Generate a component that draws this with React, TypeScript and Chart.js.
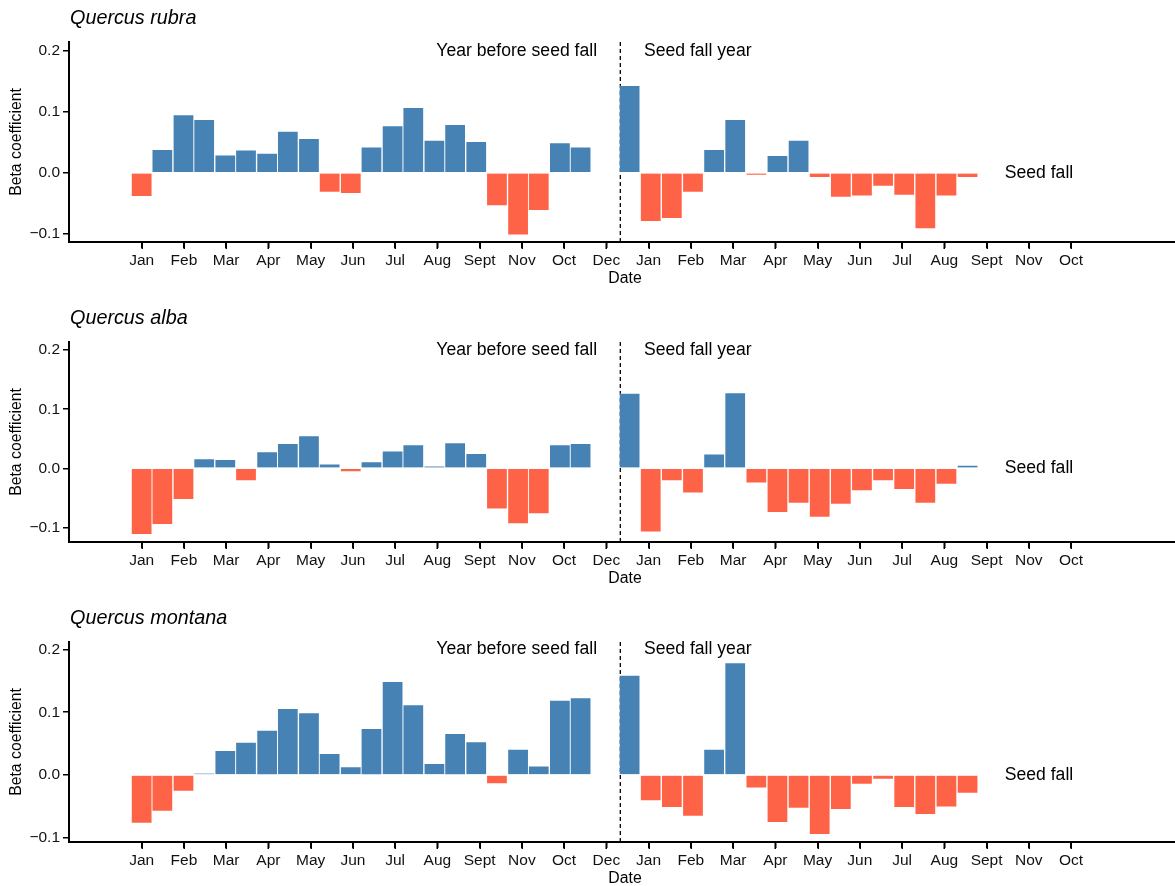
import React, { useEffect, useRef } from "react";
import { Chart, registerables } from "chart.js";

Chart.register(...registerables);

const FONT = "'Liberation Sans', Arial, Helvetica, sans-serif";

const TICK_POS = [0, 1, 2, 3, 4, 5, 6, 7, 8, 9, 10, 11, 12, 13, 14, 15, 16, 17, 18, 19, 20, 21, 22];
const TICK_LABELS = [
  "Jan", "Feb", "Mar", "Apr", "May", "Jun", "Jul", "Aug", "Sept", "Nov", "Oct", "Dec",
  "Jan", "Feb", "Mar", "Apr", "May", "Jun", "Jul", "Aug", "Sept", "Nov", "Oct",
];
const Y_TICKS = [-0.1, 0, 0.1, 0.2];
const Y_TICK_LABELS = ["\u22120.1", "0.0", "0.1", "0.2"];

// half-month periods (x in month units, ticks at integers)
const BEFORE_X = [0, 0.49, 0.99, 1.48, 1.98, 2.47, 2.97, 3.46, 3.96, 4.45, 4.95, 5.44, 5.94, 6.43, 6.93, 7.42, 7.92, 8.41, 8.91, 9.4, 9.9, 10.39];
const SEED_X = [11.55, 12.05, 12.55, 13.05, 13.55, 14.05, 14.55, 15.05, 15.55, 16.05, 16.55, 17.05, 17.55, 18.05, 18.55, 19.05, 19.55];

const RUBRA_BEFORE = [-0.039, 0.038, 0.095, 0.087, 0.029, 0.037, 0.032, 0.068, 0.056, -0.032, -0.034, 0.042, 0.077, 0.107, 0.053, 0.079, 0.051, -0.054, -0.102, -0.062, 0.049, 0.042];
const RUBRA_SEED = [0.143, -0.08, -0.075, -0.032, 0.038, 0.087, -0.004, 0.028, 0.053, -0.008, -0.04, -0.038, -0.022, -0.037, -0.092, -0.038, -0.008];

const ALBA_BEFORE = [-0.112, -0.095, -0.053, 0.016, 0.015, -0.021, 0.028, 0.042, 0.055, 0.007, -0.006, 0.011, 0.029, 0.04, 0.004, 0.043, 0.025, -0.069, -0.094, -0.077, 0.04, 0.042];
const ALBA_SEED = [0.127, -0.108, -0.021, -0.042, 0.024, 0.128, -0.025, -0.075, -0.059, -0.083, -0.061, -0.038, -0.021, -0.036, -0.059, -0.027, 0.005];

const MONTANA_BEFORE = [-0.077, -0.058, -0.026, 0.002, 0.039, 0.052, 0.071, 0.106, 0.099, 0.034, 0.013, 0.074, 0.149, 0.112, 0.018, 0.066, 0.053, -0.014, 0.041, 0.014, 0.119, 0.123];
const MONTANA_SEED = [0.159, -0.041, -0.052, -0.066, 0.041, 0.179, -0.021, -0.076, -0.053, -0.095, -0.055, -0.015, -0.007, -0.052, -0.063, -0.051, -0.029];

const SPECIES = ["Quercus rubra", "Quercus alba", "Quercus montana"];
const BEFORE_SERIES = [RUBRA_BEFORE, ALBA_BEFORE, MONTANA_BEFORE];
const SEED_SERIES = [RUBRA_SEED, ALBA_SEED, MONTANA_SEED];
const Y_MIN = [-0.1136, -0.1249, -0.107];
const Y_MAX = [0.2143, 0.2139, 0.212];

const X_MIN = -1.72;
const X_MAX = 24.46;
const DIVIDER_X = 11.33;
const LABEL_BEFORE = "Year before seed fall";
const LABEL_SEED_YEAR = "Seed fall year";
const LABEL_SEED_FALL = "Seed fall";
const BEFORE_LABEL_X = 10.78;
const SEED_LABEL_X = 11.89;
const FALL_LABEL_X = 20.43;

const BLUE = "#4682B4";
const RED = "#FF6347";

const PANEL_TOPS = [0, 300, 600];
const PANEL_HEIGHTS = [300, 300, 286];
const PLOT_TOP = 42;
const PLOT_BOTTOM = 242;
const AXIS_W = 69;

function Panel({ idx }: { idx: number }) {
  const ref = useRef<HTMLCanvasElement | null>(null);
  const H = PANEL_HEIGHTS[idx];

  useEffect(() => {
    if (!ref.current) return;
    const points = [
      ...BEFORE_X.map((x, i) => ({ x, y: BEFORE_SERIES[idx][i] })),
      ...SEED_X.map((x, i) => ({ x, y: SEED_SERIES[idx][i] })),
    ];

    const annot = {
      id: "annot" + idx,
      beforeDatasetsDraw(chart: any) {
        const { ctx, chartArea, scales } = chart;
        const px = scales.x.getPixelForValue(DIVIDER_X);
        ctx.save();
        ctx.strokeStyle = "#000";
        ctx.lineWidth = 1.3;
        ctx.setLineDash([4, 3]);
        ctx.beginPath();
        ctx.moveTo(px, chartArea.top);
        ctx.lineTo(px, chartArea.bottom);
        ctx.stroke();
        ctx.restore();
      },
      afterDraw(chart: any) {
        const { ctx, chartArea, scales } = chart;
        const x = scales.x;
        const y = scales.y;
        ctx.save();
        // x tick marks
        ctx.strokeStyle = "#000";
        ctx.lineWidth = 1.5;
        ctx.beginPath();
        TICK_POS.forEach((v) => {
          const px = Math.round(x.getPixelForValue(v)) + 0.25;
          ctx.moveTo(px, chartArea.bottom + 1);
          ctx.lineTo(px, chartArea.bottom + 7);
        });
        ctx.stroke();
        ctx.fillStyle = "#000";
        ctx.textBaseline = "middle";
        // title
        ctx.font = `italic 19.8px ${FONT}`;
        ctx.textAlign = "left";
        ctx.fillText(SPECIES[idx], chartArea.left + 1, 18);
        // annotations
        ctx.font = `17.6px ${FONT}`;
        ctx.textAlign = "right";
        ctx.fillText(LABEL_BEFORE, x.getPixelForValue(BEFORE_LABEL_X), y.getPixelForValue(0.2));
        ctx.textAlign = "left";
        ctx.fillText(LABEL_SEED_YEAR, x.getPixelForValue(SEED_LABEL_X), y.getPixelForValue(0.2));
        ctx.fillText(LABEL_SEED_FALL, x.getPixelForValue(FALL_LABEL_X), y.getPixelForValue(0));
        // axis titles
        ctx.font = `15.8px ${FONT}`;
        ctx.textAlign = "center";
        ctx.fillText("Date", (chartArea.left + chartArea.right) / 2 + 3, chartArea.bottom + 37);
        ctx.translate(17, (chartArea.top + chartArea.bottom) / 2);
        ctx.rotate(-Math.PI / 2);
        ctx.fillText("Beta coefficient", 0, 0);
        ctx.restore();
      },
    };

    const chart = new Chart(ref.current, {
      type: "bar",
      data: {
        datasets: [
          {
            data: points as any,
            backgroundColor: (c: any) => ((c.parsed && c.parsed.y >= 0) ? BLUE : RED),
            borderColor: "rgba(255,255,255,0.22)",
            borderWidth: 0.8,
            borderSkipped: "start",
            barPercentage: 1,
            categoryPercentage: 1,
          },
        ],
      },
      options: {
        responsive: false,
        animation: false,
        layout: { padding: { top: PLOT_TOP, left: 0, right: 0, bottom: 0 } },
        plugins: { legend: { display: false }, tooltip: { enabled: false }, title: { display: false } },
        scales: {
          x: {
            type: "linear",
            offset: false,
            min: X_MIN,
            max: X_MAX,
            afterBuildTicks: (s: any) => {
              s.ticks = TICK_POS.map((v) => ({ value: v }));
            },
            afterFit: (s: any) => {
              s.height = H - PLOT_BOTTOM;
            },
            ticks: {
              autoSkip: false,
              maxRotation: 0,
              minRotation: 0,
              padding: 3,
              color: "#111",
              font: { family: FONT, size: 15.5 },
              callback: (_v: any, i: number) => TICK_LABELS[i],
            },
            grid: { display: true, offset: false, drawOnChartArea: false, drawTicks: true, tickLength: 6, tickColor: "#000", tickWidth: 1.5, color: "#000", lineWidth: 1.5 },
            border: { display: true, color: "#000", width: 2 },
          },
          y: {
            type: "linear",
            min: Y_MIN[idx],
            max: Y_MAX[idx],
            afterBuildTicks: (s: any) => {
              s.ticks = Y_TICKS.map((v) => ({ value: v }));
            },
            afterFit: (s: any) => {
              s.width = AXIS_W;
            },
            ticks: {
              padding: 3,
              color: "#111",
              font: { family: FONT, size: 15.5 },
              callback: (_v: any, i: number) => Y_TICK_LABELS[i],
            },
            grid: { drawOnChartArea: false, drawTicks: true, tickLength: 6, tickColor: "#000", tickWidth: 1.5, color: "#000", lineWidth: 1.5 },
            border: { display: true, color: "#000", width: 2 },
          },
        },
      },
      plugins: [annot],
    });
    return () => chart.destroy();
  }, [idx, H]);

  return (
    <div style={{ position: "absolute", left: 0, top: PANEL_TOPS[idx], width: 1175, height: H }}>
      <canvas ref={ref} width={1175} height={H} style={{ display: "block", width: 1175, height: H }} />
    </div>
  );
}

export default function App() {
  return (
    <div style={{ position: "absolute", left: 0, top: 0, width: 1175, height: 886, overflow: "hidden", background: "#fff" }}>
      {[0, 1, 2].map((i) => (
        <Panel key={i} idx={i} />
      ))}
    </div>
  );
}
